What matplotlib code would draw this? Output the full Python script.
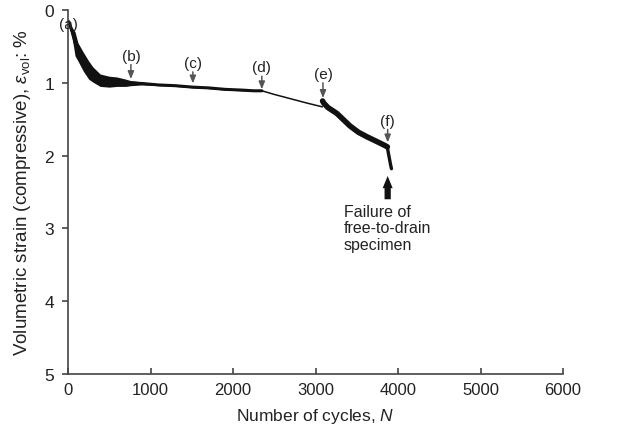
#!/usr/bin/env python3
"""
Volumetric strain versus number of loading cycles, with stage markers (a)-(f).
"""

import matplotlib

matplotlib.use("Agg")
import matplotlib.pyplot as plt

# initial rapid compression, noisy band up to ~800 cycles, then slow creep
n_stage1 = [0, 20, 50, 85, 120, 185, 250, 300, 390, 500, 590, 700, 760,
            900, 1100, 1300, 1513, 1700, 1900, 2100, 2250, 2349]
eps_stage1 = [0.15, 0.20, 0.30, 0.45, 0.56, 0.71, 0.82, 0.88, 0.96, 0.98,
              0.98, 1.00, 1.00, 1.01, 1.03, 1.04, 1.06, 1.07, 1.09, 1.10,
              1.11, 1.11]
eps_stage1_top = [0.12, 0.16, 0.24, 0.30, 0.45, 0.58, 0.70, 0.78, 0.88, 0.91,
                  0.92, 0.95, 0.97, 0.99, 1.02, 1.03, 1.05, 1.06, 1.08, 1.09,
                  1.10, 1.10]
eps_stage1_bot = [0.18, 0.26, 0.38, 0.63, 0.70, 0.84, 0.95, 0.99, 1.05, 1.06,
                  1.05, 1.05, 1.04, 1.03, 1.04, 1.05, 1.07, 1.08, 1.10, 1.11,
                  1.12, 1.12]

# quiet stretch between (d) and (e)
n_stage2 = [2349, 2500, 2700, 2900, 3080]
eps_stage2 = [1.11, 1.16, 1.22, 1.28, 1.33]

# accelerating stage between (e) and (f)
n_stage3 = [3085, 3100, 3150, 3257, 3350, 3414, 3520, 3620, 3730, 3838, 3870]
eps_stage3 = [1.25, 1.28, 1.34, 1.42, 1.52, 1.59, 1.68, 1.74, 1.80, 1.86, 1.88]

# final drop after (f)
n_stage4 = [3870, 3880, 3895, 3910, 3920]
eps_stage4 = [1.88, 1.95, 2.04, 2.13, 2.18]

labels = ["(a)", "(b)", "(c)", "(d)", "(e)", "(f)"]
label_n = [0, 762, 1513, 2349, 3090, 3874]
label_tip = [None, 0.95, 1.01, 1.09, 1.21, 1.82]
label_y = [0.19, 0.63, 0.73, 0.79, 0.88, 1.52]

plt.rcParams["font.family"] = ["Liberation Sans", "DejaVu Sans"]
plt.rcParams["mathtext.fontset"] = "custom"
plt.rcParams["mathtext.rm"] = "Liberation Sans"
plt.rcParams["mathtext.it"] = "Liberation Sans:italic"

fig = plt.figure(figsize=(6.2, 4.39), dpi=100)
ax = fig.add_axes([0.1097, 0.1458, 0.7985, 0.8292])

ink = "#111111"
text_col = "#222222"
ax.fill_between(n_stage1, eps_stage1_top, eps_stage1_bot, color=ink, lw=0)
ax.plot(n_stage1, eps_stage1, color=ink, lw=2.2, solid_capstyle="round")
ax.plot(n_stage2, eps_stage2, color=ink, lw=1.1)
ax.plot(n_stage3, eps_stage3, color=ink, lw=4.0, solid_capstyle="round")
ax.plot(n_stage4, eps_stage4, color=ink, lw=2.4, solid_capstyle="round")

for lab, n, tip, ly in zip(labels, label_n, label_tip, label_y):
    ax.text(n, ly, lab, ha="center", va="center", fontsize=11, color=text_col)
    if tip is None:
        continue
    ax.annotate("", xy=(n, tip), xytext=(n, ly + 0.12),
                arrowprops=dict(arrowstyle="-|>,head_length=0.45,head_width=0.18",
                                color="#555555", lw=1.1, shrinkA=0, shrinkB=0))

# failure marker
ax.annotate("", xy=(3874, 2.28), xytext=(3874, 2.60),
            arrowprops=dict(arrowstyle="simple,head_length=0.55,head_width=0.45,tail_width=0.28",
                            mutation_scale=16, color=ink, lw=0,
                            shrinkA=0, shrinkB=0))
ax.text(3340, 2.66, "Failure of\nfree-to-drain\nspecimen", ha="left", va="top",
        fontsize=11.5, color=text_col, linespacing=1.12)

ax.set_xlim(0, 6000)
ax.set_ylim(5, 0)
ax.set_xticks(range(0, 6001, 1000))
ax.set_yticks(range(0, 6))

axis_col = "#444444"
for side in ("top", "right"):
    ax.spines[side].set_visible(False)
for side in ("left", "bottom"):
    ax.spines[side].set_color(axis_col)
    ax.spines[side].set_linewidth(1.2)
ax.tick_params(axis="x", direction="in", length=4, width=1.2, color=axis_col,
               labelsize=12, labelcolor=text_col, pad=6)
ax.tick_params(axis="y", direction="out", length=4, width=1.2, color=axis_col,
               labelsize=12.5, labelcolor=text_col, pad=6)

ax.set_xlabel("Number of cycles, $N$", fontsize=12.5, color=text_col, labelpad=6)
ax.set_ylabel(r"Volumetric strain (compressive), $\varepsilon_{\mathrm{vol}}$: %",
              fontsize=13.5, color=text_col, labelpad=8)

fig.savefig("out.png", dpi=100)
